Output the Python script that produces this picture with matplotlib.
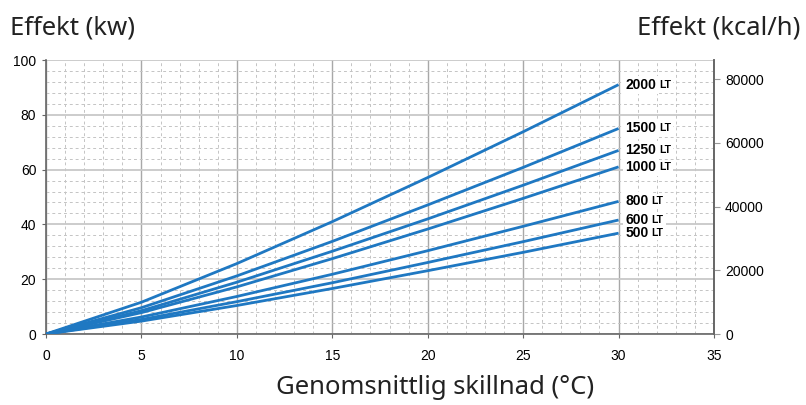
import numpy as np
import matplotlib
matplotlib.use("Agg")
import matplotlib.pyplot as plt
from matplotlib import rcParams
from matplotlib.ticker import MultipleLocator

rcParams['font.family'] = 'Liberation Sans'

# Data
# ====================================================== #
temp_diff = [0, 5, 10, 15, 20, 25, 30]
tank_labels = ["2000", "1500", "1250", "1000", "800", "600", "500"]
effekt_kw = {
    "2000": [0, 11.6, 25.7, 41.0, 57.1, 73.8, 91.0],
    "1500": [0, 9.6, 21.2, 33.8, 47.1, 60.8, 75.0],
    "1250": [0, 8.5, 18.9, 30.2, 42.0, 54.3, 67.0],
    "1000": [0, 7.8, 17.2, 27.5, 38.3, 49.5, 61.0],
    "800":  [0, 6.2, 13.7, 21.8, 30.4, 39.3, 48.4],
    "600":  [0, 5.3, 11.8, 18.7, 26.1, 33.7, 41.6],
    "500":  [0, 4.7, 10.4, 16.6, 23.1, 29.8, 36.8],
}
kw_to_kcal = 860
# ====================================================== #

line_color = '#1f78c2'
spine_color = '#666666'
head_font = 'Noto Sans'

fig = plt.figure(figsize=(8.06, 4.05), dpi=100)
ax = fig.add_axes([46/806, 71/405, 668/806, 274/405])

for name in tank_labels:
    ax.plot(temp_diff, effekt_kw[name], color=line_color, lw=2.0,
            solid_capstyle='butt', zorder=3)
    t = ax.annotate(name, (temp_diff[-1], effekt_kw[name][-1]),
                    xytext=(5, 0), textcoords='offset points',
                    fontsize=10, fontweight='bold', va='center', ha='left',
                    bbox=dict(boxstyle='square,pad=0.15', fc='white', ec='none'),
                    zorder=4)
    ax.annotate("LT", xy=(1, 0), xycoords=t, xytext=(2, 1.5),
                textcoords='offset points', fontsize=7.5, fontweight='bold',
                va='bottom', ha='left',
                bbox=dict(boxstyle='square,pad=0.2', fc='white', ec='none'),
                zorder=4)

ax.set_xlim(0, 35)
ax.set_ylim(0, 100)
ax.xaxis.set_major_locator(MultipleLocator(5))
ax.xaxis.set_minor_locator(MultipleLocator(1))
ax.yaxis.set_major_locator(MultipleLocator(20))
ax.yaxis.set_minor_locator(MultipleLocator(4))
ax.grid(which='major', axis='x', color='#a8a8a8', lw=1.0, zorder=1)
ax.grid(which='major', axis='y', color='#c8c8c8', lw=1.3, zorder=1)
ax.grid(which='minor', color='#c4c4c4', lw=0.7, ls=(0, (3, 3)), zorder=0)
ax.tick_params(which='major', length=3, color=spine_color, labelsize=10, pad=4)
ax.tick_params(axis='x', pad=8)
ax.tick_params(which='minor', length=0)
ax.spines['top'].set_visible(False)
for s in ['left', 'bottom', 'right']:
    ax.spines[s].set_color(spine_color)
    ax.spines[s].set_linewidth(1.2)

ax2 = ax.twinx()
ax2.set_ylim(0, 100 * kw_to_kcal)
ax2.yaxis.set_major_locator(MultipleLocator(20000))
ax2.tick_params(length=4, color='#999999', labelsize=10, pad=4)
ax2.spines['top'].set_visible(False)
ax2.spines['left'].set_visible(False)
ax2.spines['bottom'].set_visible(False)
ax2.spines['right'].set_color(spine_color)
ax2.spines['right'].set_linewidth(1.2)

fig.text(10/806, 1 - 28/405, "Effekt (kw)", fontsize=18.5, color='#222222',
         va='center', ha='left', family=head_font)
fig.text(800/806, 1 - 28/405, "Effekt (kcal/h)", fontsize=18.5, color='#222222',
         va='center', ha='right', family=head_font)
fig.text(435/806, 1 - 388/405, "Genomsnittlig skillnad (°C)", fontsize=18.5,
         color='#222222', va='center', ha='center', family=head_font)

fig.savefig("out.png", dpi=100)
